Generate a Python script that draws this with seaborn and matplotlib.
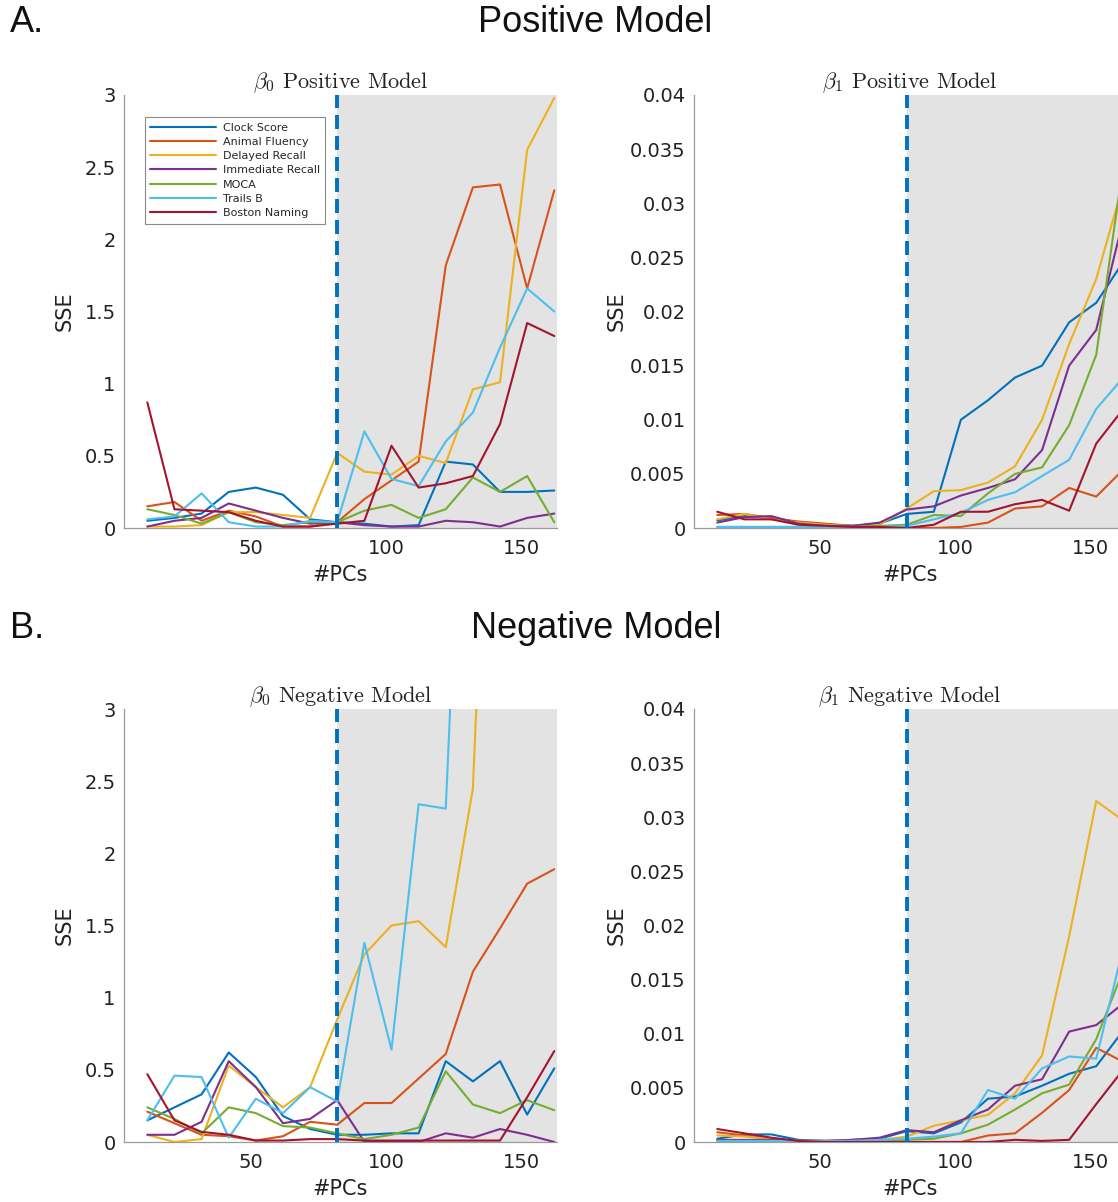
import matplotlib
matplotlib.use("Agg")
import matplotlib.pyplot as plt
import seaborn as sns
import pandas as pd
from matplotlib.ticker import FuncFormatter

# ---------------- data ----------------
x_pcs = [12, 22, 32, 42, 52, 62, 72, 82, 92, 102, 112, 122, 132, 142, 152, 162]
cutoff_pcs = 82

measures = ["Clock Score", "Animal Fluency", "Delayed Recall", "Immediate Recall",
            "MOCA", "Trails B", "Boston Naming"]
colors = ["#0072BD", "#D95319", "#EDB120", "#7E2F8E", "#77AC30", "#4DBEEE", "#A2142F"]

# beta0, positive model
b0_pos_clock = [0.05, 0.07, 0.10, 0.25, 0.28, 0.23, 0.06, 0.04, 0.03, 0.01, 0.02, 0.46, 0.44, 0.25, 0.25, 0.26]
b0_pos_animal = [0.15, 0.18, 0.05, 0.12, 0.08, 0.01, 0.01, 0.04, 0.20, 0.33, 0.46, 1.82, 2.36, 2.38, 1.66, 2.34]
b0_pos_delayed = [0.01, 0.01, 0.02, 0.11, 0.11, 0.09, 0.07, 0.52, 0.39, 0.37, 0.50, 0.45, 0.96, 1.01, 2.62, 2.98]
b0_pos_immediate = [0.01, 0.05, 0.07, 0.17, 0.12, 0.07, 0.03, 0.04, 0.02, 0.01, 0.01, 0.05, 0.04, 0.01, 0.07, 0.10]
b0_pos_moca = [0.13, 0.09, 0.03, 0.11, 0.04, 0.02, 0.04, 0.04, 0.12, 0.16, 0.07, 0.13, 0.35, 0.25, 0.36, 0.04]
b0_pos_trails = [0.06, 0.08, 0.24, 0.04, 0.01, 0.01, 0.05, 0.04, 0.67, 0.34, 0.29, 0.60, 0.80, 1.25, 1.66, 1.50]
b0_pos_boston = [0.87, 0.13, 0.12, 0.11, 0.05, 0.01, 0.01, 0.03, 0.05, 0.57, 0.28, 0.31, 0.36, 0.72, 1.42, 1.33]

# beta1, positive model
b1_pos_clock = [0.0007, 0.0011, 0.0010, 0.0005, 0.0003, 0.0002, 0.0004, 0.0013, 0.0015, 0.0100, 0.0118, 0.0139, 0.0150, 0.0190, 0.0208, 0.0246]
b1_pos_animal = [0.0012, 0.0013, 0.0009, 0.0006, 0.0004, 0.0002, 0.0002, 0.0000, 0.0000, 0.0001, 0.0005, 0.0018, 0.0020, 0.0037, 0.0029, 0.0054]
b1_pos_delayed = [0.0008, 0.0013, 0.0008, 0.0005, 0.0003, 0.0002, 0.0003, 0.0018, 0.0034, 0.0035, 0.0042, 0.0057, 0.0100, 0.0170, 0.0230, 0.0318]
b1_pos_immediate = [0.0005, 0.0010, 0.0011, 0.0004, 0.0002, 0.0002, 0.0005, 0.0017, 0.0020, 0.0030, 0.0037, 0.0045, 0.0072, 0.0150, 0.0183, 0.0285]
b1_pos_moca = [0.0001, 0.0001, 0.0001, 0.0001, 0.0001, 0.0001, 0.0002, 0.0003, 0.0012, 0.0011, 0.0032, 0.0050, 0.0056, 0.0095, 0.0160, 0.0336]
b1_pos_trails = [0.0001, 0.0001, 0.0001, 0.0001, 0.0001, 0.0001, 0.0001, 0.0002, 0.0008, 0.0014, 0.0026, 0.0033, 0.0048, 0.0063, 0.0110, 0.0139]
b1_pos_boston = [0.0015, 0.0008, 0.0008, 0.0003, 0.0002, 0.0001, 0.0001, 0.0000, 0.0003, 0.0015, 0.0015, 0.0022, 0.0026, 0.0016, 0.0078, 0.0110]

# beta0, negative model
b0_neg_clock = [0.15, 0.24, 0.33, 0.62, 0.45, 0.18, 0.09, 0.05, 0.05, 0.06, 0.06, 0.56, 0.42, 0.56, 0.19, 0.51]
b0_neg_animal = [0.21, 0.13, 0.05, 0.04, 0.01, 0.04, 0.14, 0.12, 0.27, 0.27, 0.44, 0.61, 1.18, 1.48, 1.79, 1.89]
b0_neg_delayed = [0.05, 0.00, 0.02, 0.53, 0.38, 0.24, 0.38, 0.85, 1.30, 1.50, 1.53, 1.35, 2.45, 6.9, 9.0, 10.0]
b0_neg_immediate = [0.05, 0.05, 0.14, 0.56, 0.38, 0.13, 0.16, 0.29, 0.00, 0.00, 0.00, 0.06, 0.03, 0.09, 0.05, 0.00]
b0_neg_moca = [0.24, 0.16, 0.06, 0.24, 0.20, 0.11, 0.10, 0.06, 0.02, 0.05, 0.10, 0.49, 0.26, 0.20, 0.29, 0.22]
b0_neg_trails = [0.15, 0.46, 0.45, 0.03, 0.30, 0.20, 0.38, 0.28, 1.38, 0.64, 2.34, 2.31, 6.6, 8.0, 9.0, 10.0]
b0_neg_boston = [0.47, 0.15, 0.07, 0.05, 0.01, 0.01, 0.02, 0.02, 0.01, 0.01, 0.01, 0.01, 0.01, 0.01, 0.31, 0.63]

# beta1, negative model
b1_neg_clock = [0.0003, 0.0007, 0.0007, 0.0002, 0.0001, 0.0002, 0.0003, 0.0010, 0.0008, 0.0018, 0.0040, 0.0042, 0.0052, 0.0063, 0.0070, 0.0103]
b1_neg_animal = [0.0009, 0.0006, 0.0003, 0.0001, 0.0001, 0.0000, 0.0000, 0.0000, 0.0000, 0.0000, 0.0006, 0.0008, 0.0027, 0.0048, 0.0087, 0.0074]
b1_neg_delayed = [0.0006, 0.0005, 0.0003, 0.0001, 0.0001, 0.0001, 0.0002, 0.0005, 0.0015, 0.0020, 0.0025, 0.0045, 0.0080, 0.0190, 0.0315, 0.0297]
b1_neg_immediate = [0.0002, 0.0002, 0.0002, 0.0001, 0.0001, 0.0002, 0.0004, 0.0011, 0.0009, 0.0020, 0.0030, 0.0052, 0.0058, 0.0102, 0.0108, 0.0128]
b1_neg_moca = [0.0001, 0.0001, 0.0001, 0.0001, 0.0001, 0.0001, 0.0001, 0.0002, 0.0003, 0.0008, 0.0016, 0.0030, 0.0045, 0.0053, 0.0095, 0.0159]
b1_neg_trails = [0.0001, 0.0001, 0.0001, 0.0001, 0.0001, 0.0001, 0.0002, 0.0003, 0.0005, 0.0008, 0.0048, 0.0040, 0.0068, 0.0079, 0.0077, 0.0180]
b1_neg_boston = [0.0012, 0.0008, 0.0004, 0.0001, 0.0000, 0.0000, 0.0000, 0.0000, 0.0000, 0.0000, 0.0000, 0.0002, 0.0001, 0.0002, 0.0035, 0.0067]

b0_pos = [b0_pos_clock, b0_pos_animal, b0_pos_delayed, b0_pos_immediate, b0_pos_moca, b0_pos_trails, b0_pos_boston]
b1_pos = [b1_pos_clock, b1_pos_animal, b1_pos_delayed, b1_pos_immediate, b1_pos_moca, b1_pos_trails, b1_pos_boston]
b0_neg = [b0_neg_clock, b0_neg_animal, b0_neg_delayed, b0_neg_immediate, b0_neg_moca, b0_neg_trails, b0_neg_boston]
b1_neg = [b1_neg_clock, b1_neg_animal, b1_neg_delayed, b1_neg_immediate, b1_neg_moca, b1_neg_trails, b1_neg_boston]

y0_ticks = [0, 0.5, 1, 1.5, 2, 2.5, 3]
y1_ticks = [0, 0.005, 0.01, 0.015, 0.02, 0.025, 0.03, 0.035, 0.04]
x_ticks = [50, 100, 150]


def to_long(series_list):
    rows = []
    for name, vals in zip(measures, series_list):
        for xv, yv in zip(x_pcs, vals):
            rows.append({"PCs": xv, "SSE": yv, "measure": name})
    return pd.DataFrame(rows)


# ---------------- style ----------------
sns.set_style("white")
plt.rcParams["font.family"] = ["DejaVu Sans"]
plt.rcParams["mathtext.fontset"] = "cm"

W, H = 1118, 1202
fig = plt.figure(figsize=(W / 100, H / 100), dpi=100)


def px_axes(left, top, right, bottom):
    return fig.add_axes([left / W, 1 - bottom / H, (right - left) / W, (bottom - top) / H])


ax_tl = px_axes(124, 95, 557, 528)
ax_tr = px_axes(694, 95, 1126, 528)
ax_bl = px_axes(124, 709, 557, 1142)
ax_br = px_axes(694, 709, 1126, 1142)

panels = [
    (ax_tl, b0_pos, r"$\beta_0$ Positive Model", y0_ticks, (0, 3), True),
    (ax_tr, b1_pos, r"$\beta_1$ Positive Model", y1_ticks, (0, 0.04), False),
    (ax_bl, b0_neg, r"$\beta_0$ Negative Model", y0_ticks, (0, 3), False),
    (ax_br, b1_neg, r"$\beta_1$ Negative Model", y1_ticks, (0, 0.04), False),
]

palette = dict(zip(measures, colors))

for ax, series, title, yt, ylim, show_leg in panels:
    df = to_long(series)
    ax.axvspan(cutoff_pcs, 163, color="#e3e3e3", zorder=0, lw=0)
    sns.lineplot(data=df, x="PCs", y="SSE", hue="measure", hue_order=measures,
                 palette=palette, estimator=None, sort=False, legend=False,
                 linewidth=1.5, ax=ax, zorder=3)
    handles = list(ax.lines)
    ax.axvline(cutoff_pcs, color="#0072BD", lw=2.8, ls=(0, (3.6, 1.8)), zorder=4)
    ax.set_xlim(3.4, 163)
    ax.set_ylim(*ylim)
    ax.set_xticks(x_ticks)
    ax.set_yticks(yt)
    ax.yaxis.set_major_formatter(FuncFormatter(lambda v, p: "%g" % v))
    ax.tick_params(direction="in", length=4, width=0.8, color="#9a9a9a",
                   labelsize=14, labelcolor="#222222")
    ax.tick_params(axis="x", pad=8)
    ax.tick_params(axis="y", pad=6)
    for s in ["top", "right"]:
        ax.spines[s].set_visible(False)
    for s in ["left", "bottom"]:
        ax.spines[s].set_color("#9a9a9a")
        ax.spines[s].set_linewidth(0.9)
    ax.set_xlabel("#PCs", fontsize=15, color="#222222")
    ax.set_ylabel("SSE", fontsize=15, color="#222222")
    ax.set_title(title, fontsize=16, family="cmr10", pad=5, color="#222222")
    ax.xaxis.set_label_coords(0.5, -0.085)
    if ax in (ax_tl, ax_bl):
        ax.yaxis.set_label_coords(-0.113, 0.5)
    else:
        ax.yaxis.set_label_coords(-0.157, 0.5)
    if show_leg:
        leg = ax.legend(handles=handles, labels=measures, loc="upper left",
                        bbox_to_anchor=(0.048, 0.949), borderaxespad=0,
                        fontsize=8, handlelength=5.9, handletextpad=0.6,
                        labelspacing=0.38, frameon=True, fancybox=False,
                        framealpha=1, borderpad=0.5)
        leg.get_frame().set_edgecolor("#8a8a8a")
        leg.get_frame().set_linewidth(0.8)
        leg.set_zorder(6)

# headers
fig.text(10 / W, 1 - 22 / H, "A.", fontsize=26, family="Liberation Sans",
         ha="left", va="center", color="#111111")
fig.text(595 / W, 1 - 22 / H, "Positive Model", fontsize=26, family="Liberation Sans",
         ha="center", va="center", color="#111111")
fig.text(10 / W, 1 - 628 / H, "B.", fontsize=26, family="Liberation Sans",
         ha="left", va="center", color="#111111")
fig.text(596 / W, 1 - 628 / H, "Negative Model", fontsize=26, family="Liberation Sans",
         ha="center", va="center", color="#111111")

fig.savefig("out.png", dpi=100)
